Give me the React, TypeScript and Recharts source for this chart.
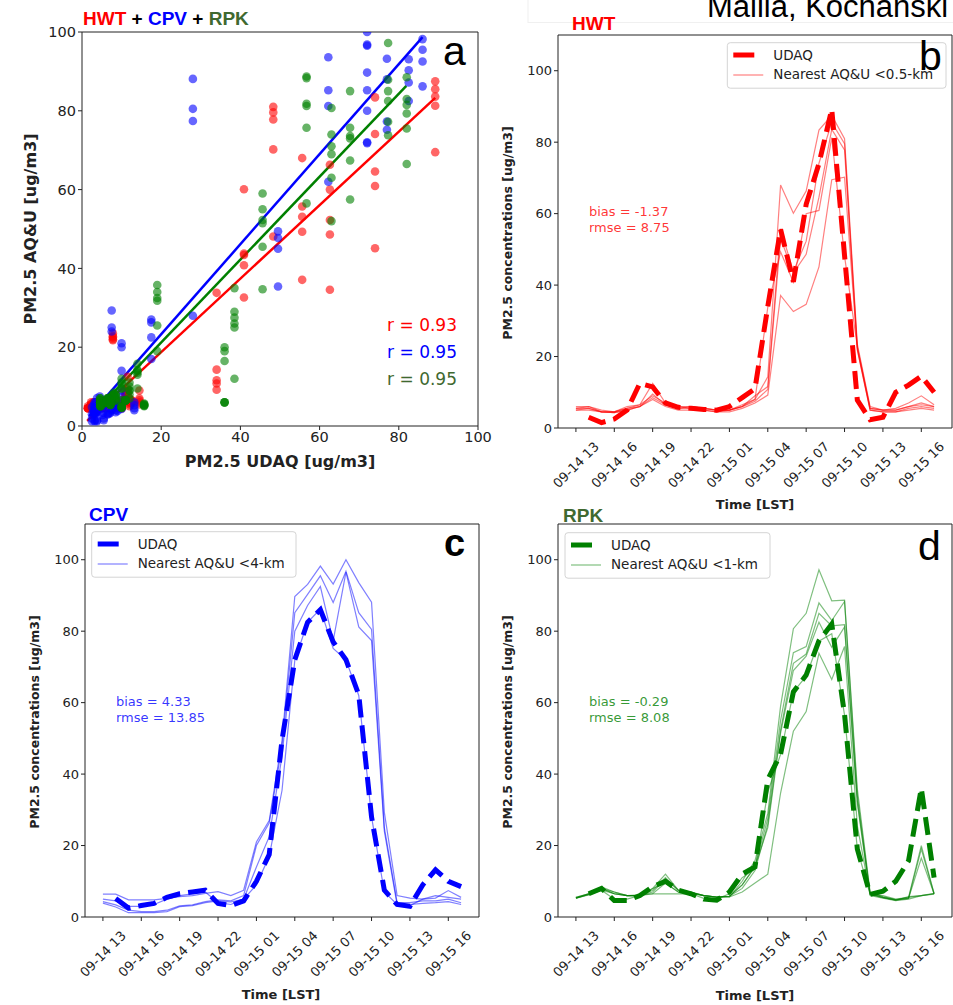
import React from 'react';
import {
  ScatterChart,
  Scatter,
  LineChart,
  Line,
  XAxis,
  YAxis,
  ReferenceArea,
  ReferenceLine
} from 'recharts';

// hourly time stamps (LST)
const timeLabels = [
  '09-14 13', '09-14 14', '09-14 15', '09-14 16', '09-14 17', '09-14 18', '09-14 19',
  '09-14 20', '09-14 21', '09-14 22', '09-14 23', '09-15 00', '09-15 01', '09-15 02',
  '09-15 03', '09-15 04', '09-15 05', '09-15 06', '09-15 07', '09-15 08', '09-15 09',
  '09-15 10', '09-15 11', '09-15 12', '09-15 13', '09-15 14', '09-15 15', '09-15 16',
  '09-15 17'
];
const hourTicks = [0, 3, 6, 9, 12, 15, 18, 21, 24, 27];
const concTicks = [0, 20, 40, 60, 80, 100];
const scatterTicks = [0, 20, 40, 60, 80, 100];

// HWT
const udaqHWT = [null, 3, 1.5, 2.5, 5, 12.5, 11.5, 7, 5.8, 5.5, 5.2, 5, 6, 8.5, 11, 34, 55.6, 40.9, 62.6, 74, 89.2, 48.3, 7.8, 2.3, 3, 10, 12, 14.5, 10];
const aquHWT = [
  [5.5, 6, 5, 4.5, 6, 6.5, 12.5, 7, 6, 6, 5.5, 5, 5, 6.5, 8, 14.3, 68, 60.1, 66.3, 83.4, 87.5, 81, 23.5, 6, 5, 5.5, 7, 9, 6.5],
  [6, 6, 4.5, 4.5, 5.5, 6, 9.5, 6.5, 5.5, 6, 5.5, 5, 5, 6, 9, 11.6, 55.7, 43.8, 52.3, 74.1, 85.5, 79.6, 22.5, 5.5, 5, 5, 6, 7, 6],
  [5, 5.5, 4.5, 4.3, 5, 6, 8.5, 6.5, 5.5, 5.5, 5, 4.5, 5, 6, 7.5, 10.8, 53.1, 43.4, 48.6, 64.6, 83.6, 77.8, 21.8, 5, 4.5, 4.5, 5.5, 6, 5.5],
  [5, 5, 4.5, 4.3, 5, 6, 8, 6, 5, 5, 5, 4.5, 4.5, 5.5, 7, 9.2, 37.1, 32.6, 34.6, 45.1, 69.5, 70.2, 22, 5, 4.5, 4.5, 5, 5.5, 5],
  [5.5, 5.5, 4.5, 4.5, 5.5, 6.5, 9, 7, 6, 5.5, 5.5, 5, 5, 6, 8, 33.8, 49.3, 40.8, 60, 60.9, 81.3, 48.1, 22.8, 5.5, 5, 5, 6, 6.5, 6]
];

// CPV
const udaqCPV = [null, 5.2, 2.5, 3.2, 3.8, 5.5, 6.5, 7, 7.5, 3.8, 3.2, 4.5, 10, 17.5, 49.5, 72, 82.5, 86, 77, 72, 62.2, 28, 7.5, 3.5, 3, 9, 13.2, 10, 8.5];
const aquCPV = [
  [6.4, 6.4, 4.8, 4.8, 4.8, 5.2, 5.7, 6, 6.6, 7.1, 6, 7.5, 21, 27, 49.4, 89.7, 93.1, 98.2, 93.2, 100, 93.6, 88.1, 29.3, 6, 5.3, 5, 5.3, 7.4, 5.5],
  [4.3, 3.4, 1.9, 1.5, 1.5, 1.9, 3.1, 3.4, 4.3, 4.8, 4.5, 6, 20, 26.3, 47.7, 85.2, 90.3, 95.5, 88, 96.8, 85.2, 80.5, 25, 4, 4, 4.5, 4.5, 5, 4],
  [3.9, 2.8, 1.2, 1.2, 1.2, 1.5, 2.9, 3.2, 4, 4.5, 4.2, 5, 14, 22.5, 45, 80, 87.2, 92.5, 77.3, 96.5, 81.2, 77.4, 24, 3.4, 3.5, 3.8, 4, 4.3, 3.5],
  [5, 4.5, 3, 3, 3.5, 5, 6, 6.5, 7, 4, 3.5, 5, 9, 17, 35.4, 71.8, 82.5, 86.2, 75.2, 72, 62, 28, 7, 3.5, 3.2, 5, 6, 5.5, 5]
];

// RPK
const udaqRPK = [null, 6.5, 8, 4.6, 4.6, 6, 8.5, 10, 7.5, 6.5, 5, 4.7, 7, 12, 14, 38.5, 45.6, 63, 67.7, 77.3, 82, 56.7, 19, 6.3, 7.2, 10, 15.7, 36, 11];
const aquRPK = [
  [5.3, 6.5, 8.4, 7, 6, 6, 8, 12, 7.5, 7, 6, 5.6, 5.6, 10, 15.8, 29, 59, 80.7, 85, 97.2, 88.5, 88.7, 35.8, 7, 5.7, 4.9, 5.4, 20, 6.5],
  [5.3, 6.3, 8, 6.5, 6, 6, 7, 10.7, 7.5, 7, 6, 5.6, 5.8, 9, 14.2, 27.5, 55, 74, 75.7, 87.9, 83, 88.3, 34, 6.5, 5.5, 4.8, 5.2, 19, 6.5],
  [5.3, 6.2, 7.5, 6.5, 6, 6.2, 6.5, 6.5, 6.5, 6.5, 6, 5.6, 5.8, 8, 13, 26, 52.3, 71, 73.6, 85, 81.5, 81.8, 32.5, 6.5, 5.5, 4.7, 5.2, 16.5, 6.5],
  [5.5, 6.5, 8, 7, 6, 6, 7.5, 11, 7.5, 6.8, 6, 5.5, 5.8, 9, 14, 25, 51.5, 69, 73, 82.5, 75.5, 81.2, 31.8, 6, 5.3, 4.6, 5, 6, 6.4],
  [5.3, 6.3, 8, 6.5, 6, 6, 6.5, 9.5, 7, 6.8, 6, 5.6, 5.6, 7, 9.5, 12, 34.7, 52, 57.5, 73.8, 66.5, 75.7, 25.5, 6.3, 5.4, 4.7, 5.7, 6, 6.6],
  [5.5, 6.5, 7.5, 5, 5, 6, 8, 9.5, 7, 6.5, 5.2, 5, 6.5, 11, 13.5, 35, 45.5, 63, 67.4, 77.2, 79.3, 56.5, 19, 6.3, 6, 5, 5.5, 6, 6.5]
];

// fitted lines (end points read off panel a)
const fitHWT = [{ x: 1.3, y: 1.3 }, { x: 89.2, y: 83.3 }];
const fitCPV = [{ x: 1.8, y: 2.5 }, { x: 86, y: 98.7 }];
const fitRPK = [{ x: 2.4, y: 2.7 }, { x: 81.9, y: 86.3 }];

const RED = '#ff0000';
const BLUE = '#0000ff';
const GREEN = '#008000';
const OLIVE = '#3f6930';
const DEJAVU = "'DejaVu Sans', sans-serif";
const ARIAL = "'Liberation Sans', Arial, sans-serif";
const INK = '#222';

const PLOT_W = 394;
const PLOT_H = 393;

function toRows(udaq: (number | null)[], sensors: number[][]) {
  return timeLabels.map((_, i) => {
    const row: Record<string, number | null> = { t: i, udaq: udaq[i] };
    sensors.forEach((s, k) => {
      row['s' + k] = s[i];
    });
    return row;
  });
}

function toPairs(udaq: (number | null)[], sensors: number[][]) {
  const pts: { x: number; y: number }[] = [];
  udaq.forEach((u, i) => {
    if (u == null) return;
    sensors.forEach(s => pts.push({ x: u, y: s[i] }));
  });
  return pts;
}

const TimeTick = (props: any) => {
  const { x, y, payload } = props;
  return (
    <g transform={`translate(${x},${y + 31})`}>
      <text
        transform="rotate(-45)"
        textAnchor="middle"
        dominantBaseline="central"
        fontSize={13}
        fontFamily={DEJAVU}
        fill={INK}
      >
        {timeLabels[payload.value]}
      </text>
    </g>
  );
};

interface PanelProps {
  left: number;
  top: number;
  width: number;
  plotLeft: number;
  plotTop: number;
  udaq: (number | null)[];
  sensors: number[][];
  color: string;
}

function TimePanel({ left, top, width, plotLeft, plotTop, udaq, sensors, color }: PanelProps) {
  const rows = toRows(udaq, sensors);
  return (
    <div style={{ position: 'absolute', left, top }}>
      <LineChart
        width={width}
        height={plotTop + PLOT_H + 90}
        data={rows}
        margin={{ top: plotTop, left: plotLeft - 50, right: width - plotLeft - PLOT_W, bottom: 0 }}
      >
        <XAxis
          dataKey="t"
          type="number"
          domain={[-1.4, 29.4]}
          ticks={hourTicks}
          interval={0}
          height={90}
          tickSize={4}
          axisLine={false}
          tickLine={{ stroke: INK }}
          tick={(p: any) => <TimeTick {...p} />}
          allowDataOverflow
        />
        <YAxis
          type="number"
          domain={[0, 110]}
          ticks={concTicks}
          width={50}
          tickSize={4}
          axisLine={false}
          tickLine={{ stroke: INK }}
          tick={{ fontSize: 13, fill: INK, fontFamily: DEJAVU }}
          allowDataOverflow
        />
        <ReferenceArea x1={-1.4} x2={29.4} y1={0} y2={110} fill="none" stroke={INK} strokeWidth={1} ifOverflow="visible" />
        {sensors.map((_, k) => (
          <Line
            key={k}
            dataKey={'s' + k}
            type="linear"
            stroke={color}
            strokeOpacity={0.5}
            strokeWidth={1.2}
            dot={false}
            isAnimationActive={false}
          />
        ))}
        <Line
          dataKey="udaq"
          type="linear"
          stroke={color}
          strokeWidth={5}
          strokeDasharray="18 8"
          dot={false}
          connectNulls={false}
          isAnimationActive={false}
        />
      </LineChart>
    </div>
  );
}

const dotShape = (color: string) => (p: any) => (
  <circle cx={p.cx} cy={p.cy} r={4.3} fill={color} fillOpacity={0.6} />
);

function LegendBox({ x, y, w, color, label }: { x: number; y: number; w: number; color: string; label: string }) {
  return (
    <g>
      <rect x={x} y={y} width={w} height={45.5} rx={3} fill="#fff" fillOpacity={0.85} stroke="#d4d4d4" />
      <line x1={x + 6} x2={x + 27} y1={y + 12.3} y2={y + 12.3} stroke={color} strokeWidth={5} />
      <line x1={x + 6} x2={x + 36} y1={y + 32.3} y2={y + 32.3} stroke={color} strokeOpacity={0.5} strokeWidth={1.2} />
      <text x={x + 46} y={y + 17.5} fontSize={13.5} fontFamily={DEJAVU} fill={INK}>UDAQ</text>
      <text x={x + 46} y={y + 36.5} fontSize={13.5} fontFamily={DEJAVU} fill={INK}>{label}</text>
    </g>
  );
}

export default function App() {
  const ptsHWT = toPairs(udaqHWT, aquHWT);
  const ptsCPV = toPairs(udaqCPV, aquCPV);
  const ptsRPK = toPairs(udaqRPK, aquRPK);

  return (
    <div
      style={{
        position: 'absolute',
        left: 0,
        top: 0,
        width: 953,
        height: 1005,
        background: '#fff',
        overflow: 'hidden',
        fontFamily: DEJAVU
      }}
    >
      {/* panel a */}
      <div style={{ position: 'absolute', left: 0, top: 0 }}>
        <ScatterChart width={500} height={480} margin={{ top: 32, left: 22, right: 22, bottom: 0 }}>
          <XAxis
            type="number"
            dataKey="x"
            domain={[0, 100]}
            ticks={scatterTicks}
            interval={0}
            height={54}
            tickSize={4}
            axisLine={false}
            tickLine={{ stroke: INK }}
            tick={{ fontSize: 14.5, fill: INK, fontFamily: DEJAVU }}
            allowDataOverflow
          />
          <YAxis
            type="number"
            dataKey="y"
            domain={[0, 100]}
            ticks={scatterTicks}
            interval={0}
            width={60}
            tickSize={4}
            axisLine={false}
            tickLine={{ stroke: INK }}
            tick={{ fontSize: 14.5, fill: INK, fontFamily: DEJAVU }}
            allowDataOverflow
          />
          <ReferenceArea x1={0} x2={100} y1={0} y2={100} fill="none" stroke={INK} strokeWidth={1} ifOverflow="visible" />
          <Scatter data={ptsHWT} shape={dotShape(RED)} isAnimationActive={false} />
          <Scatter data={ptsCPV} shape={dotShape(BLUE)} isAnimationActive={false} />
          <Scatter data={ptsRPK} shape={dotShape(GREEN)} isAnimationActive={false} />
          <ReferenceLine segment={fitHWT} stroke={RED} strokeWidth={2.5} ifOverflow="visible" />
          <ReferenceLine segment={fitCPV} stroke={BLUE} strokeWidth={2.5} ifOverflow="visible" />
          <ReferenceLine segment={fitRPK} stroke={GREEN} strokeWidth={2.5} ifOverflow="visible" />
        </ScatterChart>
      </div>

      {/* panels b, c, d */}
      <TimePanel left={480} top={0} width={473} plotLeft={78} plotTop={35} udaq={udaqHWT} sensors={aquHWT} color={RED} />
      <TimePanel left={0} top={490} width={480} plotLeft={85} plotTop={34} udaq={udaqCPV} sensors={aquCPV} color={BLUE} />
      <TimePanel left={480} top={490} width={473} plotLeft={78} plotTop={34} udaq={udaqRPK} sensors={aquRPK} color={GREEN} />

      {/* annotations */}
      <svg width={953} height={1005} style={{ position: 'absolute', left: 0, top: 0, pointerEvents: 'none' }}>
        <rect x={528} y={-2} width={430} height={24.5} fill="none" stroke="#f0f0f0" />
        <text x={707} y={17} fontSize={31} fontFamily={ARIAL} fill="#000">Mallia, Kochanski</text>

        <text x={83} y={25} fontSize={19} fontWeight="bold" fontFamily={ARIAL}>
          <tspan fill={RED}>HWT</tspan>
          <tspan fill="#000"> + </tspan>
          <tspan fill={BLUE}>CPV</tspan>
          <tspan fill="#000"> + </tspan>
          <tspan fill={OLIVE}>RPK</tspan>
        </text>
        <text x={572} y={30} fontSize={19} fontWeight="bold" fontFamily={ARIAL} fill={RED}>HWT</text>
        <text x={89} y={521} fontSize={19} fontWeight="bold" fontFamily={ARIAL} fill={BLUE}>CPV</text>
        <text x={563} y={521.5} fontSize={19} fontWeight="bold" fontFamily={ARIAL} fill={OLIVE}>RPK</text>

        <text x={457} y={331} textAnchor="end" fontSize={17} fontFamily={DEJAVU} fill={RED}>r = 0.93</text>
        <text x={457} y={358} textAnchor="end" fontSize={17} fontFamily={DEJAVU} fill={BLUE}>r = 0.95</text>
        <text x={457} y={385} textAnchor="end" fontSize={17} fontFamily={DEJAVU} fill={OLIVE}>r = 0.95</text>

        <text x={280} y={467} textAnchor="middle" fontSize={16} fontWeight="bold" fontFamily={DEJAVU} fill={INK}>PM2.5 UDAQ [ug/m3]</text>
        <text transform="translate(36,229) rotate(-90)" textAnchor="middle" fontSize={16} fontWeight="bold" fontFamily={DEJAVU} fill={INK}>PM2.5 AQ&amp;U [ug/m3]</text>

        <text transform="translate(512,233) rotate(-90)" textAnchor="middle" fontSize={12.5} fontWeight="bold" fontFamily={DEJAVU} fill={INK}>PM2.5 concentrations [ug/m3]</text>
        <text transform="translate(39,722) rotate(-90)" textAnchor="middle" fontSize={12.5} fontWeight="bold" fontFamily={DEJAVU} fill={INK}>PM2.5 concentrations [ug/m3]</text>
        <text transform="translate(512,722) rotate(-90)" textAnchor="middle" fontSize={12.5} fontWeight="bold" fontFamily={DEJAVU} fill={INK}>PM2.5 concentrations [ug/m3]</text>

        <text x={755} y={509} textAnchor="middle" fontSize={13} fontWeight="bold" fontFamily={DEJAVU} fill={INK}>Time [LST]</text>
        <text x={281} y={999} textAnchor="middle" fontSize={13} fontWeight="bold" fontFamily={DEJAVU} fill={INK}>Time [LST]</text>
        <text x={755} y={1000} textAnchor="middle" fontSize={13} fontWeight="bold" fontFamily={DEJAVU} fill={INK}>Time [LST]</text>

        <text x={589} y={216} fontSize={13} fontFamily={DEJAVU} fill={RED} fillOpacity={0.8}>bias = -1.37</text>
        <text x={589} y={232} fontSize={13} fontFamily={DEJAVU} fill={RED} fillOpacity={0.8}>rmse = 8.75</text>
        <text x={116} y={706} fontSize={13} fontFamily={DEJAVU} fill={BLUE} fillOpacity={0.8}>bias = 4.33</text>
        <text x={116} y={722} fontSize={13} fontFamily={DEJAVU} fill={BLUE} fillOpacity={0.8}>rmse = 13.85</text>
        <text x={589} y={706} fontSize={13} fontFamily={DEJAVU} fill={GREEN} fillOpacity={0.8}>bias = -0.29</text>
        <text x={589} y={722} fontSize={13} fontFamily={DEJAVU} fill={GREEN} fillOpacity={0.8}>rmse = 8.08</text>

        <LegendBox x={727.3} y={42.7} w={218.7} color={RED} label="Nearest AQ&U <0.5-km" />
        <LegendBox x={91.7} y={531.7} w={204.3} color={BLUE} label="Nearest AQ&U <4-km" />
        <LegendBox x={565} y={532.7} w={205} color={GREEN} label="Nearest AQ&U <1-km" />

        {/* panel letters sit on top of the legends, as in the figure */}
        <text x={443} y={65} fontSize={41} fontFamily={ARIAL} fill="#000">a</text>
        <text x={919} y={70} fontSize={41} fontFamily={ARIAL} fill="#000">b</text>
        <text x={444} y={556} fontSize={38} fontWeight="bold" fontFamily={ARIAL} fill="#000">c</text>
        <text x={918} y={560} fontSize={41} fontFamily={ARIAL} fill="#000">d</text>
      </svg>
    </div>
  );
}
